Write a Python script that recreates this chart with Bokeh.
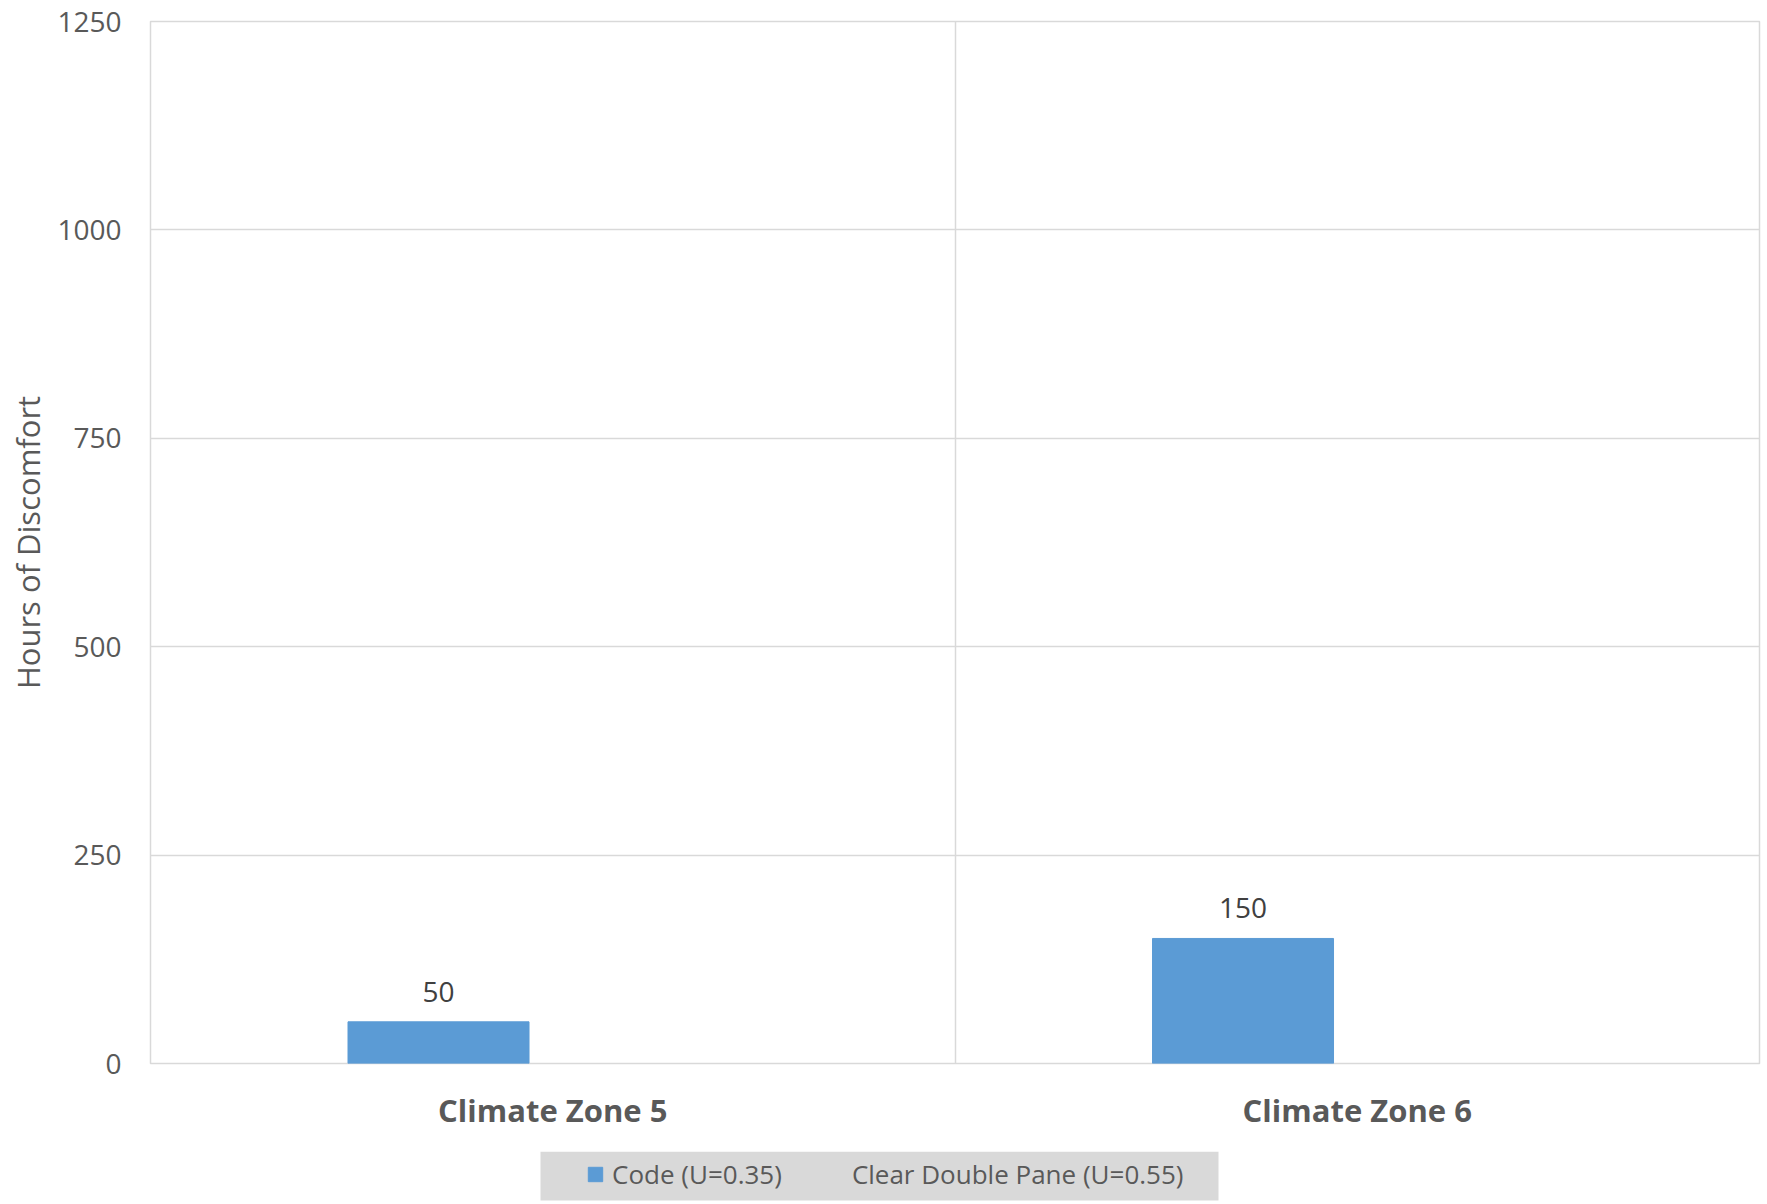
from bokeh.plotting import figure
from bokeh.layouts import column
from bokeh.models import (ColumnDataSource, Range1d, FixedTicker, LabelSet,
                          Legend, LegendItem, BoxAnnotation)
from bokeh.core.properties import value
from bokeh.transform import dodge
from bokeh.embed import file_html
from bokeh.resources import INLINE

# Hours of discomfort by climate zone and window type
zones = ["Climate Zone 5", "Climate Zone 6"]
code_u035 = [50, 150]
clear_double_pane_u055 = [0, 0]
series_names = ["Code (U=0.35)", "Clear Double Pane (U=0.55)"]
y_ticks = [0, 250, 500, 750, 1000, 1250]

FONT = "Open Sans"
TEXT = "#595959"
GRID = "#d9d9d9"
BAR = "#5b9bd5"
W, H_CHART, H_KEY = 1767, 1151, 53
LEFT, RIGHT = 150, 8

centers = [i + 0.5 for i in range(len(zones))]
src = ColumnDataSource(dict(
    x=centers,
    zone=zones,
    code=code_u035,
    clear=clear_double_pane_u055,
    code_lbl=[str(v) for v in code_u035],
))

bar_w = 0.225
off = 0.142

# ---- main chart ----
p = figure(width=W, height=H_CHART, output_backend="svg", toolbar_location=None,
           x_range=Range1d(0, len(zones)), y_range=Range1d(0, 1250),
           min_border_left=LEFT, min_border_right=RIGHT, min_border_top=21,
           min_border_bottom=88)
p.background_fill_color = "white"
p.border_fill_color = "white"
p.outline_line_color = GRID
p.outline_line_width = 1.5

p.vbar(x=dodge("x", -off), top="code", width=bar_w, source=src,
       fill_color=BAR, line_color=BAR)
p.vbar(x=dodge("x", off), top="clear", width=bar_w, source=src,
       fill_alpha=0, line_alpha=0)

labels = LabelSet(x=dodge("x", -off), y="code", text="code_lbl", source=src,
                  text_align="center", text_baseline="alphabetic", y_offset=20,
                  text_font=value(FONT), text_font_size="28px",
                  text_color="#404040")
p.add_layout(labels)

p.yaxis.ticker = FixedTicker(ticks=y_ticks)
p.yaxis.axis_line_color = None
p.yaxis.major_tick_line_color = None
p.yaxis.minor_tick_line_color = None
p.yaxis.major_tick_out = 0
p.yaxis.major_label_standoff = 29
p.yaxis.major_label_text_font = FONT
p.yaxis.major_label_text_font_size = "28px"
p.yaxis.major_label_text_color = TEXT
p.yaxis.axis_label = "Hours of Discomfort"
p.yaxis.axis_label_text_font = FONT
p.yaxis.axis_label_text_font_size = "31px"
p.yaxis.axis_label_text_font_style = "normal"
p.yaxis.axis_label_text_color = TEXT
p.yaxis.axis_label_standoff = 5

p.xaxis.ticker = FixedTicker(ticks=centers)
p.xaxis.major_label_overrides = {c: z for c, z in zip(centers, zones)}
p.xaxis.axis_line_color = None
p.xaxis.major_tick_line_color = None
p.xaxis.minor_tick_line_color = None
p.xaxis.major_tick_out = 0
p.xaxis.major_label_standoff = 25
p.xaxis.major_label_text_font = FONT
p.xaxis.major_label_text_font_size = "31px"
p.xaxis.major_label_text_font_style = "bold"
p.xaxis.major_label_text_color = TEXT

p.ygrid.ticker = FixedTicker(ticks=y_ticks)
p.ygrid.grid_line_color = GRID
p.ygrid.grid_line_width = 1.5
p.xgrid.ticker = FixedTicker(ticks=list(range(len(zones) + 1)))
p.xgrid.grid_line_color = GRID
p.xgrid.grid_line_width = 1.5

# ---- legend strip below the chart (x in page pixels) ----
k = figure(width=W, height=H_KEY, output_backend="svg", toolbar_location=None,
           x_range=Range1d(LEFT, W - RIGHT), y_range=Range1d(0, H_KEY),
           x_axis_location=None, y_axis_location=None,
           min_border=0, min_border_left=LEFT, min_border_right=RIGHT,
           min_border_top=0, min_border_bottom=0)
k.outline_line_color = None
k.grid.visible = False
k.background_fill_color = "white"

k.add_layout(BoxAnnotation(left=540, right=1218, bottom=4, top=H_KEY,
                           fill_color=GRID, fill_alpha=1, line_alpha=0))

# hidden series glyphs that supply the legend keys
key_src = ColumnDataSource(dict(x=centers, code=code_u035,
                                clear=clear_double_pane_u055))
k_code = k.vbar(x="x", top="code", width=bar_w, source=key_src,
                fill_color=BAR, line_color=BAR, visible=False)
k_clear = k.vbar(x="x", top="clear", width=bar_w, source=key_src,
                 fill_alpha=0, line_alpha=0, visible=False)

legend = Legend(items=[LegendItem(label=series_names[0], renderers=[k_code]),
                       LegendItem(label=series_names[1], renderers=[k_clear])],
                orientation="horizontal", location=(586 - LEFT, 12),
                padding=0, margin=0, spacing=44,
                glyph_width=18, glyph_height=18, label_standoff=8,
                label_text_font=FONT, label_text_font_size="26px",
                label_text_color=TEXT,
                inactive_fill_alpha=0,
                background_fill_alpha=0, border_line_alpha=0)
k.add_layout(legend, "center")

open("out.html", "w").write(file_html(column(p, k, spacing=0), INLINE))
